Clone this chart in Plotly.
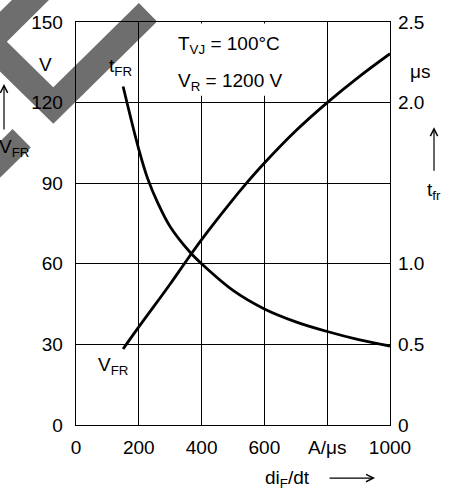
import plotly.graph_objects as go

# ---- data ----
t_x = [150, 200, 228, 260, 300, 364, 400, 500, 600, 700, 800, 900, 1000]      # diF/dt  A/us
t_fr = [2.10, 1.71, 1.53, 1.38, 1.23, 1.07, 1.00, 0.835, 0.72, 0.64, 0.58, 0.53, 0.49]  # us

v_x = [150, 200, 300, 345, 400, 490, 543, 600, 700, 800, 900, 1000]
v_fr = [28.3, 36.5, 52.5, 60, 69, 82.5, 90, 97.5, 109.5, 120, 129.5, 138.2]      # V

x_ticks = [0, 200, 400, 600, 800, 1000]
x_ticktext = ["0", "200", "400", "600", "A/\u03bcs", "1000"]
y_ticks = [0, 30, 60, 90, 120, 150]
y_ticktext = ["0", "30", "60", "90", "120", "150"]
y2_ticks = [0, 0.5, 1.0, 2.0, 2.5]
y2_ticktext = ["0", "0.5", "1.0", "2.0", "2.5"]

W, H = 449, 497
L, R, T, B = 76, 390, 15, 425   # plot area in pixels


def px(x):
    return (x - L) / (R - L)


def py(y):
    return (B - y) / (B - T)


FONT = "Liberation Sans, Arial, sans-serif"
FS = 19

fig = go.Figure()
fig.add_trace(go.Scatter(x=v_x, y=v_fr, mode="lines", line=dict(color="black", width=2.8, shape="spline"),
                         yaxis="y", showlegend=False, hoverinfo="skip"))
fig.add_trace(go.Scatter(x=t_x, y=t_fr, mode="lines", line=dict(color="black", width=2.8, shape="spline"),
                         yaxis="y2", showlegend=False, hoverinfo="skip"))

axis_common = dict(showline=True, linecolor="black", linewidth=1.3, ticks="", zeroline=False,
                   tickfont=dict(family=FONT, size=FS, color="black"))

fig.update_layout(
    width=W, height=H,
    margin=dict(l=L, r=W - R, t=T, b=H - B),
    paper_bgcolor="white", plot_bgcolor="rgba(0,0,0,0)",
    font=dict(family=FONT, size=FS, color="black"),
    hovermode=False,
    xaxis=dict(range=[0, 1000], tickvals=x_ticks, ticktext=x_ticktext, showgrid=True,
               gridcolor="black", gridwidth=1.3, mirror=True, ticklabelstandoff=5, **axis_common),
    yaxis=dict(range=[0, 150], tickvals=y_ticks, ticktext=y_ticktext, showgrid=True,
               gridcolor="black", gridwidth=1.3, mirror=True, ticklabelstandoff=8, **axis_common),
    yaxis2=dict(range=[0, 2.5], tickvals=y2_ticks, ticktext=y2_ticktext, overlaying="y", side="right",
                showgrid=False, showline=False, ticks="", zeroline=False, ticklabelstandoff=7,
                tickfont=dict(family=FONT, size=FS, color="black")),
)

shapes = []
# grey watermark (decoration)
wm1 = [(40, -17), (-11.7, 35), (53.3, 100), (148, 5)]
wm2 = [(21.7, 133.3), (-40, 195)]
for pts in (wm1, wm2):
    path = "M " + " L ".join(f"{px(a):.4f},{py(b):.4f}" for a, b in pts)
    shapes.append(dict(type="path", xref="paper", yref="paper", path=path,
                       line=dict(color="#6e6e6e", width=26), layer="below"))
# white box behind the condition text
shapes.append(dict(type="rect", xref="paper", yref="paper", x0=px(171), x1=px(298), y0=py(90), y1=py(16.5),
                   fillcolor="white", line=dict(width=0), layer="above"))
fig.update_layout(shapes=shapes)

ann = []


def text(x, y, s, xanchor="center", size=FS):
    ann.append(dict(x=px(x), y=py(y), xref="paper", yref="paper", text=s, showarrow=False,
                    xanchor=xanchor, yanchor="middle", font=dict(family=FONT, size=size, color="black")))


def arrow(x0, y0, x1, y1):
    ann.append(dict(x=px(x1), y=py(y1), xref="paper", yref="paper", text="", showarrow=True,
                    ax=x0 - x1, ay=y0 - y1, arrowhead=5, arrowsize=1.2, arrowwidth=1.2,
                    arrowcolor="black", standoff=0))


text(45, 58, "V")
arrow(4, 125, 4, 78)
text(-3, 143, "V<sub>FR</sub>", xanchor="left")
text(420, 65, "\u03bcs")
arrow(434, 167, 434, 122)
text(434, 187, "t<sub>fr</sub>")
text(287, 480, "di<sub>F</sub>/dt")
arrow(328, 479, 375, 479)
text(176, 38, "T<sub>VJ</sub> = 100\u00b0C", xanchor="left")
text(176, 76, "V<sub>R</sub> = 1200 V", xanchor="left")
text(120, 61, "t<sub>FR</sub>")
text(113, 365, "V<sub>FR</sub>")
fig.update_layout(annotations=ann)

pin = ("document.body.style.margin='0';document.body.style.padding='0';"
       "var d=document.getElementById('{plot_id}');"
       "d.style.position='absolute';d.style.left='0px';d.style.top='0px';")
fig.write_html("out.html", post_script=pin, config={"displayModeBar": False, "staticPlot": True})
